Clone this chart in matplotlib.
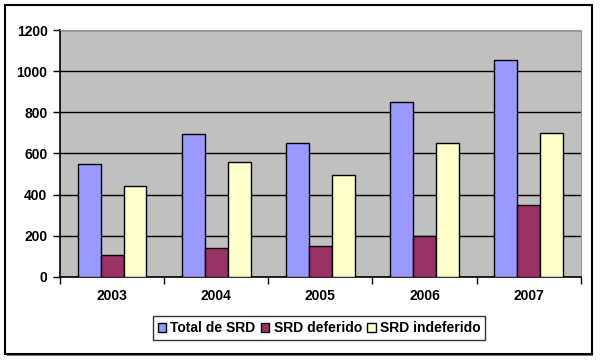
import matplotlib.pyplot as plt
import numpy as np
from matplotlib.patches import Rectangle

plt.rcParams['font.family'] = ['Liberation Sans', 'DejaVu Sans']

anos = ['2003', '2004', '2005', '2006', '2007']
total_srd = [550, 695, 650, 850, 1055]
srd_deferido = [105, 140, 150, 200, 350]
srd_indeferido = [440, 560, 495, 650, 700]

series = [
    ('Total de SRD', total_srd, '#9999FF'),
    ('SRD deferido', srd_deferido, '#993366'),
    ('SRD indeferido', srd_indeferido, '#FFFFCC'),
]

fig = plt.figure(figsize=(6, 3.62), dpi=100)

# moldura externa com sombra leve
fig.patches.append(Rectangle((0.011, 0.017), 0.978, 0.964, transform=fig.transFigure,
                             facecolor='#777777', edgecolor='none', zorder=-3))
fig.patches.append(Rectangle((0.008, 0.022), 0.978, 0.964, transform=fig.transFigure,
                             facecolor='white', edgecolor='black', lw=1.5, zorder=-2))

ax = fig.add_axes([0.1, 0.235, 0.868, 0.682])
ax.set_facecolor('#C0C0C0')

x = np.arange(len(anos))
w = 0.22
for i, (nome, vals, cor) in enumerate(series):
    ax.bar(x + (i - 1) * w, vals, w, color=cor, edgecolor='black', lw=1.0,
           label=nome, zorder=3)

ax.set_xlim(-0.5, len(anos) - 0.5)
ax.set_ylim(0, 1200)
ax.set_yticks(range(0, 1201, 200))
ax.grid(axis='y', color='black', lw=1.0, zorder=1)
ax.set_axisbelow(True)

ax.set_xticks(x)
ax.set_xticklabels(anos, fontsize=10, fontweight='bold')
ax.set_xticks(np.arange(-0.5, len(anos)), minor=True)
ax.tick_params(axis='x', which='major', length=0, pad=9)
ax.tick_params(axis='x', which='minor', length=5, width=1, direction='out')
ax.tick_params(axis='y', length=5, width=1, labelsize=10, pad=4)
for lbl in ax.get_yticklabels():
    lbl.set_fontweight('bold')

for s in ['top', 'right']:
    ax.spines[s].set_color('#999999')
    ax.spines[s].set_linewidth(0.8)
for s in ['left', 'bottom']:
    ax.spines[s].set_color('black')
    ax.spines[s].set_linewidth(1.2)

leg = fig.legend(loc='center', bbox_to_anchor=(0.532, 0.093), ncol=3,
                 prop={'size': 10, 'weight': 'bold'}, frameon=True, fancybox=False,
                 handlelength=0.6, handleheight=0.6, handletextpad=0.3,
                 columnspacing=0.4, borderpad=0.35)
leg.get_frame().set_edgecolor('black')
leg.get_frame().set_linewidth(1.0)

fig.savefig('out.png', dpi=100)
